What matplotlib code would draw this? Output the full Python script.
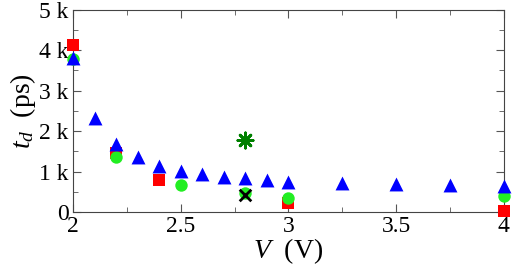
import matplotlib.pyplot as plt
from matplotlib.ticker import MultipleLocator, FuncFormatter

plt.rcParams['font.family'] = ['Liberation Serif', 'DejaVu Serif']
plt.rcParams['mathtext.fontset'] = 'custom'
plt.rcParams['mathtext.it'] = 'Liberation Serif:italic'
plt.rcParams['mathtext.rm'] = 'Liberation Serif'

# blue triangles
tri_v = [2.0, 2.1, 2.2, 2.3, 2.4, 2.5, 2.6, 2.7, 2.8, 2.9, 3.0, 3.25, 3.5, 3.75, 4.0]
tri_t = [3800, 2320, 1680, 1360, 1130, 1010, 930, 870, 840, 790, 740, 720, 700, 670, 640]
# red squares
sq_v = [2.0, 2.2, 2.4, 3.0, 4.0]
sq_t = [4120, 1460, 790, 220, 30]
# green circles
circ_v = [2.0, 2.2, 2.5, 2.8, 3.0, 4.0]
circ_t = [3770, 1370, 670, 480, 350, 400]
# single points
star_v = [2.8]
star_t = [1780]
cross_v = [2.8]
cross_t = [430]

fig = plt.figure(figsize=(5.12, 2.66), dpi=100)
ax = fig.add_axes([0.1426, 0.203, 0.8414, 0.761])

ax.scatter(sq_v, sq_t, marker='s', s=80, color='#ff0000', clip_on=False, zorder=3, linewidths=0)
ax.scatter(circ_v, circ_t, marker='o', s=80, color='#22ee22', clip_on=False, zorder=4, linewidths=0)
ax.scatter(tri_v, tri_t, marker='^', s=100, color='#0000ff', clip_on=False, zorder=5, linewidths=0)
ax.scatter(star_v, star_t, marker=(8, 2, 0), s=120, color='#008000', clip_on=False, zorder=5, linewidths=2)
ax.scatter(cross_v, cross_t, marker='x', s=70, color='black', clip_on=False, zorder=6, linewidths=2)

ax.set_xlim(2, 4)
ax.set_ylim(0, 5000)
ax.xaxis.set_major_locator(MultipleLocator(0.5))
ax.xaxis.set_minor_locator(MultipleLocator(0.25))
ax.yaxis.set_major_locator(MultipleLocator(1000))
ax.yaxis.set_minor_locator(MultipleLocator(500))
ax.xaxis.set_major_formatter(FuncFormatter(lambda v, p: '%g' % v))
ax.yaxis.set_major_formatter(FuncFormatter(lambda v, p: '0' if v == 0 else '%d k' % (v / 1000)))
ax.tick_params(which='both', direction='in', top=True, right=True, labelsize=17, color='#555555')
ax.tick_params(which='major', length=6, pad=3)
ax.tick_params(which='minor', length=3.5)
for s in ax.spines.values():
    s.set_color('#444444')

ax.set_xlabel(r'$V$  (V)', fontsize=20, labelpad=-1)
ax.set_ylabel(r'$t_d$  (ps)', fontsize=20, labelpad=1)

fig.savefig('out.png', dpi=100)
